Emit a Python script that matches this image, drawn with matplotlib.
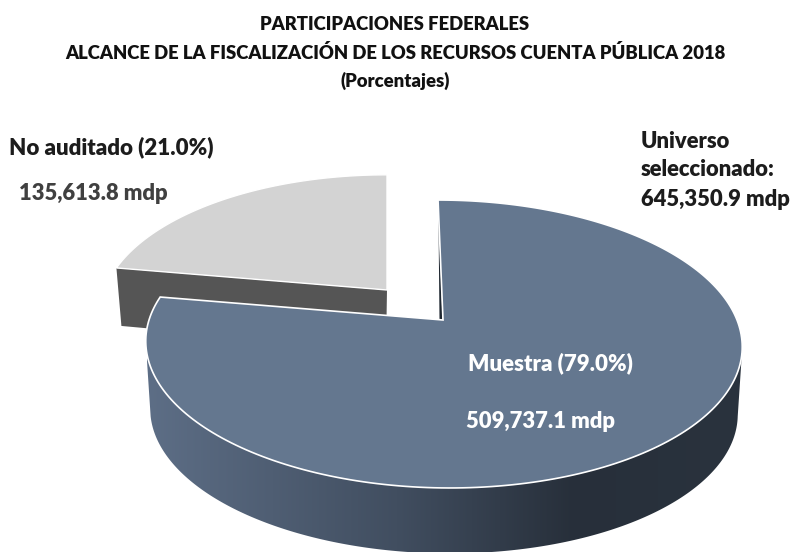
#!/usr/bin/env python
"""Exploded 3D-look pie: alcance de la fiscalizacion, Participaciones Federales 2018."""
import matplotlib

matplotlib.use("Agg")
import matplotlib.pyplot as plt
import numpy as np
from matplotlib.colors import LinearSegmentedColormap
from matplotlib.patches import Polygon

TITLE_LINES = [
    "PARTICIPACIONES FEDERALES",
    "ALCANCE DE LA FISCALIZACIÓN DE LOS RECURSOS CUENTA PÚBLICA 2018",
    "(Porcentajes)",
]
SHARES = [79.0, 21.0]
SLICE_LABELS = ["Muestra (79.0%)", "No auditado (21.0%)"]
SLICE_AMOUNTS = ["509,737.1 mdp", "135,613.8 mdp"]
UNIVERSE_LINES = ["Universo", "seleccionado:", "645,350.9 mdp"]

BLUE = "#64778f"
LIGHT = "#d3d3d3"
DARK = "#555555"
# the chart's perspective opens the small slice a little past its true angle
SWEEP_STRETCH = 1.062


def project(theta, r, cx, cy, scale=1.0, skew=-5.8):
    """Tilted disc -> pixel coords. theta in degrees, r in disc radii."""
    t = np.radians(theta)
    x, y = r * np.cos(t), r * np.sin(t)
    w = 1 + 0.1667 * y
    return np.column_stack([
        cx + scale * (294 * x + skew * y) / w,
        cy + scale * (-86.67 * y - 53.3 * y) / w,
    ])


def sector(start, end, cx, cy, scale=1.0, skew=-5.8):
    arc = project(np.linspace(start, end, 240), 1.0, cx, cy, scale, skew)
    return np.vstack([[cx, cy], arc])


plt.rcParams["font.family"] = ["Lato", "DejaVu Sans"]
plt.rcParams["font.weight"] = "heavy"

fig = plt.figure(figsize=(7.9, 5.52), dpi=100)
ax = fig.add_axes([0, 0, 1, 1])

sweep = SHARES[1] / sum(SHARES) * 360 * SWEEP_STRETCH

# small slice, pulled out to the back left
gx, gy, gs = 387, 290, 0.96
edge = project(np.array([90 + sweep, 90 + sweep]), np.array([1.0, 0.0]), gx, gy, gs, 0.0)
depth = np.array([[5, 58], [-1, 60]])
ax.add_patch(Polygon(np.vstack([edge, (edge + depth)[::-1]]), fc=DARK, ec="none", zorder=1))
ax.add_patch(Polygon(sector(90, 90 + sweep, gx, gy, gs, 0.0), fc=LIGHT, ec="white", lw=1.0, zorder=2))

# big slice: side wall first, shaded left to right
mx, my = 443, 320
side_angles = np.linspace(191.5, 348.5, 300)
rim_top = project(side_angles, 1.0, mx, my)
rim_base = project(side_angles, 1.0, mx, my + 68, 0.985)
wall = Polygon(np.vstack([rim_top, rim_base[::-1]]), fc="none", ec="none")
ax.add_patch(wall)
shade = LinearSegmentedColormap.from_list(
    "wall", [(0, "#5d6e86"), (0.42, "#414e60"), (0.72, "#272f3a"), (1, "#2a333e")]
)
img = ax.imshow(np.linspace(0, 1, 256)[None, :], cmap=shade, extent=(147, 742, 552, 340),
                aspect="auto", zorder=3)
img.set_clip_path(wall)

# thin dark sliver along the cut edge of the big slice
start_pt = project(np.array([90.0]), 0.92, mx, my)[0]
ax.add_patch(Polygon([start_pt, [mx - 0.5, my], [mx - 3.5, my]], fc="#1f2730", ec="none", zorder=3.5))

ax.add_patch(Polygon(sector(90, 90 + sweep - 360, mx, my), fc=BLUE, ec="white", lw=1.2,
                     joinstyle="miter", zorder=4))

# texts
for text, y in zip(TITLE_LINES, [25, 53, 81]):
    ax.text(395, y, text, ha="center", va="center", fontsize=13.35, color="#111111", zorder=5)

ax.text(9, 147, SLICE_LABELS[1], ha="left", va="center", fontsize=16.0, color="#1c1c1c", zorder=5)
ax.text(19, 194, SLICE_AMOUNTS[1], ha="left", va="center", fontsize=15.8, color="#404040", zorder=5)
ax.text(468, 363, SLICE_LABELS[0], ha="left", va="center", fontsize=16.0, color="white", zorder=5)
ax.text(466, 422, SLICE_AMOUNTS[0], ha="left", va="center", fontsize=15.8, color="white", zorder=5)
for text, y in zip(UNIVERSE_LINES, [141, 170, 200]):
    ax.text(641, y, text, ha="left", va="center", fontsize=15.8, color="#1c1c1c", zorder=5)

ax.set_xlim(0, 790)
ax.set_ylim(552, 0)
ax.axis("off")

fig.savefig("out.png", dpi=100)
